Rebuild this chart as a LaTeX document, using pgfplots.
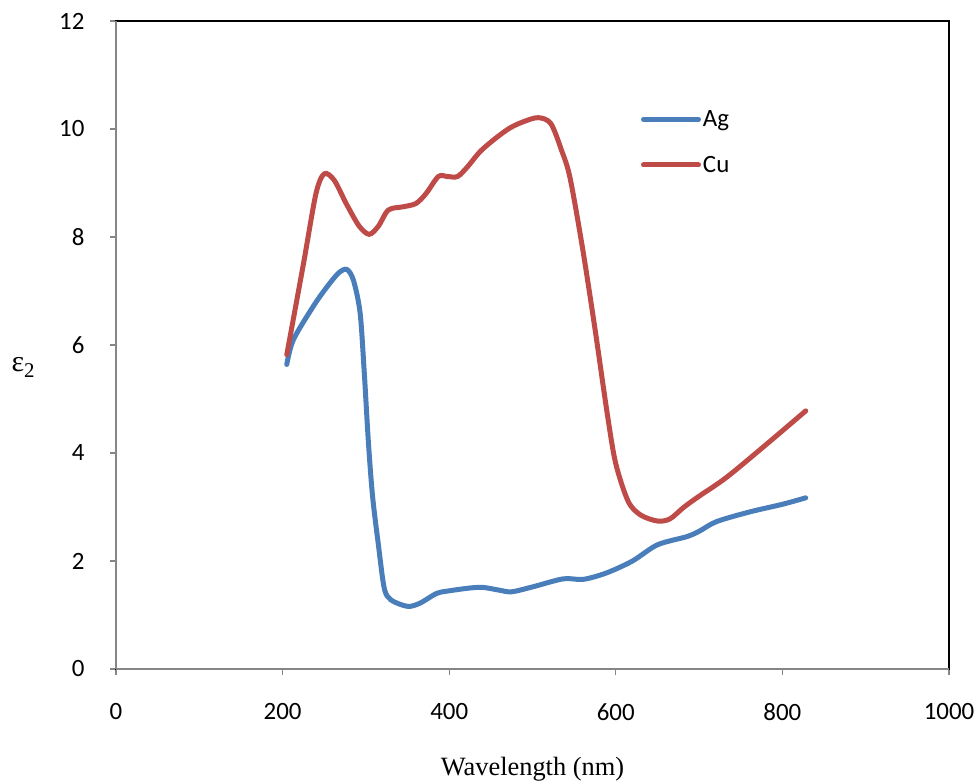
\documentclass[border=0pt]{standalone}
\usepackage{pgfplots}
\pgfplotsset{compat=1.18}
\usepackage{fontspec}
\setmainfont{Carlito}
\newfontfamily\tnr{Liberation Serif}
\definecolor{agblue}{HTML}{4A7EBB}
\definecolor{cured}{HTML}{BE4B48}
\definecolor{axgray}{HTML}{868686}
\begin{document}
\begin{tikzpicture}
\begin{axis}[
  scale only axis,
  width=833bp, height=648bp,
  xmin=0, xmax=1000, ymin=0, ymax=12,
  xtick={0,200,...,1000}, ytick={0,2,...,12},
  tick align=outside, xtick pos=bottom, ytick pos=left,
  major tick length=6bp,
  tick style={draw=axgray, line width=1.2bp},
  axis line style={draw=black, line width=1.5bp},
  /pgf/number format/assume math mode=true,
  /pgf/number format/1000 sep={},
  ticklabel style={font=\fontsize{25}{30}\selectfont},
  xticklabel style={yshift=-25bp},
  yticklabel style={xshift=-22bp},
  xlabel={\tnr\fontsize{26.5}{30}\selectfont Wavelength (nm)},
  xlabel style={at={(rel axis cs:0.5,0)}, anchor=base, yshift=-106bp},
  ylabel={\tnr\fontsize{30}{34}\selectfont ε\raisebox{-0.2em}{\fontsize{21}{24}\selectfont 2}},
  ylabel style={rotate=-90, at={(rel axis cs:0,0.465)}, anchor=west, xshift=-108bp},
  legend style={draw=none, fill=none, at={(rel axis cs:0.63,0.865)}, anchor=north west,
    font=\fontsize{25}{30}\selectfont, row sep=24bp, inner sep=0pt},
  legend cell align=left,
  legend image code/.code={\draw[#1, line cap=round] (0cm,0cm) -- (55bp,0cm);},
  after end axis/.code={
    \draw[axgray, line width=2bp] (rel axis cs:0,0) -- (rel axis cs:0,1);
    \draw[axgray, line width=2bp] (rel axis cs:0,0) -- (rel axis cs:1,0);
  },
]
\addplot[agblue, line width=5bp, smooth, tension=0.5, line cap=round] coordinates {
(205,5.64) (213,6.1) (237,6.72) (253,7.07) (267,7.33) (277,7.4) (285,7.2) (293,6.6)
(298,5.5) (303,4.2) (308,3.2) (315,2.3) (322,1.5) (330,1.28) (350,1.16) (365,1.22)
(385,1.4) (401,1.45) (425,1.50) (441,1.51) (460,1.46) (475,1.43) (500,1.52) (537,1.67)
(561,1.66) (589,1.78) (620,2.0) (650,2.3) (685,2.45) (700,2.55) (721,2.73) (761,2.91)
(800,3.05) (828,3.17)
};
\addlegendentry{Ag}
\addplot[cured, line width=5bp, smooth, tension=0.5, line cap=round] coordinates {
(205,5.82) (225,7.5) (240,8.8) (250,9.17) (262,9.05) (277,8.6) (292,8.2) (304,8.05)
(315,8.2) (327,8.5) (345,8.56) (360,8.62) (372,8.8) (387,9.12) (398,9.12) (410,9.12)
(422,9.3) (437,9.58) (455,9.82) (473,10.02) (490,10.14) (507,10.21) (522,10.1) (535,9.6)
(545,9.1) (560,7.8) (575,6.3) (590,4.7) (600,3.8) (615,3.1) (630,2.85) (650,2.74)
(665,2.78) (682,3.0) (700,3.2) (733,3.55) (780,4.15) (828,4.78)
};
\addlegendentry{Cu}
\end{axis}
\pgfresetboundingbox
\path[use as bounding box] ([shift={(-116bp,-112bp)}]current axis.south west) rectangle ([shift={(30bp,21bp)}]current axis.north east);
\end{tikzpicture}
\end{document}
